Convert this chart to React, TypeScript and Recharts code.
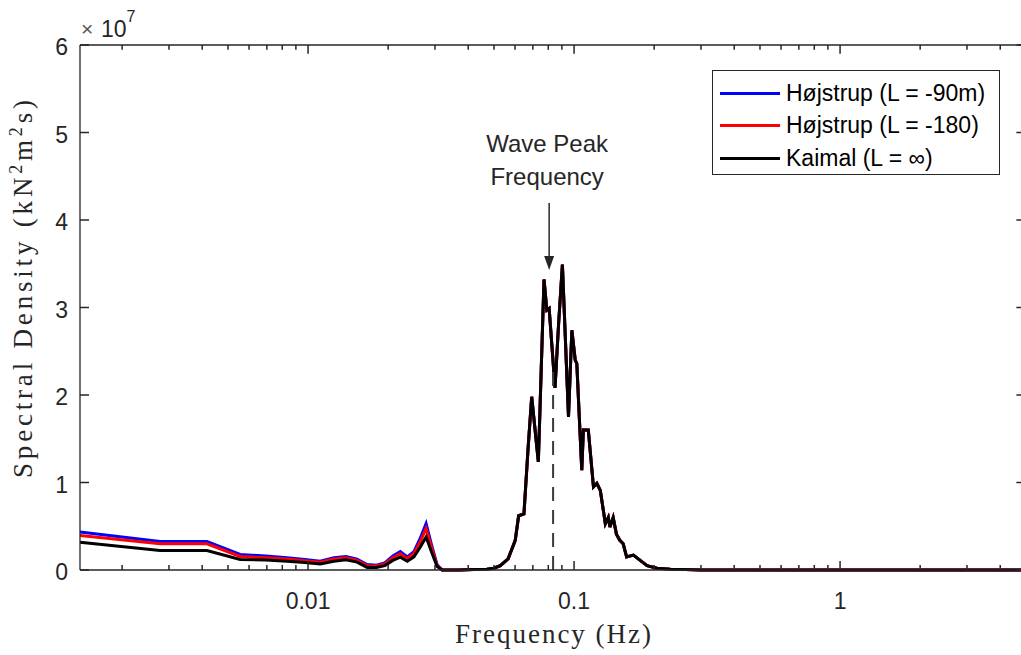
import React from "react";
import { LineChart, Line, XAxis, YAxis, ReferenceLine, ReferenceDot } from "recharts";

// low band, f = k/720 Hz, where the three spectra separate (values in units of 1e7)
const lowFreq = [
  0.001389, 0.002778, 0.004167, 0.005556, 0.006944, 0.008333, 0.009722, 0.01111,
  0.0125, 0.01389, 0.01528, 0.01667, 0.01806, 0.01944, 0.02083, 0.02222, 0.02361,
  0.025, 0.02639, 0.02778, 0.02917, 0.03056, 0.03194,
];
const hojstrup90Low = [
  0.433, 0.326, 0.326, 0.178, 0.16, 0.14, 0.12, 0.1, 0.14, 0.155, 0.125, 0.063,
  0.055, 0.08, 0.16, 0.21, 0.15, 0.21, 0.36, 0.53, 0.28, 0.06, 0,
];
const hojstrup180Low = [
  0.395, 0.3, 0.3, 0.155, 0.14, 0.125, 0.105, 0.09, 0.125, 0.14, 0.11, 0.05,
  0.045, 0.07, 0.14, 0.186, 0.13, 0.19, 0.32, 0.475, 0.25, 0.05, 0,
];
const kaimalLow = [
  0.318, 0.223, 0.223, 0.12, 0.115, 0.1, 0.085, 0.07, 0.1, 0.117, 0.09, 0.03,
  0.03, 0.05, 0.11, 0.147, 0.1, 0.15, 0.26, 0.376, 0.2, 0.04, 0,
];

// wave band, where all three curves coincide
const bandFreq = [
  0.0333, 0.037, 0.042, 0.047, 0.05, 0.0528, 0.0565, 0.0601, 0.0619, 0.0648,
  0.0671, 0.0693, 0.0734, 0.0771, 0.079, 0.0806, 0.0848, 0.0875, 0.0904, 0.0953,
  0.0981, 0.101, 0.1024, 0.1069, 0.1084, 0.1131, 0.1183, 0.1218, 0.1255, 0.1311,
  0.1345, 0.1364, 0.1403, 0.1443, 0.1486, 0.153, 0.1576, 0.1671, 0.1773, 0.1881,
  0.205, 0.23, 0.3, 0.6, 1.2, 2.5, 5,
];
const bandValues = [
  0, 0, 0.005, 0.01, 0.02, 0.05, 0.128, 0.34, 0.62, 0.64,
  1.37, 1.98, 1.235, 3.32, 2.97, 2.99, 2.08, 2.82, 3.49, 1.75,
  2.74, 2.4, 2.36, 1.14, 1.6, 1.6, 0.95, 0.99, 0.91, 0.53,
  0.6, 0.49, 0.6, 0.41, 0.34, 0.3, 0.15, 0.17, 0.11, 0.05,
  0.02, 0.01, 0, 0, 0, 0, 0,
];

const seriesNames = ["Højstrup (L = -90m)", "Højstrup (L = -180)", "Kaimal (L = ∞)"];
const seriesKeys = ["h90", "h180", "kaimal"];
const seriesColors = ["#0000ff", "#ff0000", "#000000"];

const xTicks = [
  0.002, 0.003, 0.004, 0.005, 0.006, 0.007, 0.008, 0.009, 0.01,
  0.02, 0.03, 0.04, 0.05, 0.06, 0.07, 0.08, 0.09, 0.1,
  0.2, 0.3, 0.4, 0.5, 0.6, 0.7, 0.8, 0.9, 1,
  2, 3, 4, 5,
];
const xMajor = [0.01, 0.1, 1];
const yTicks = [0, 1, 2, 3, 4, 5, 6];

const peakFreq = 0.0834;
const peakLineTop = 2.3;
const arrowFreq = 0.0806;
const arrowTip = 3.43;

const rows = [
  ...lowFreq.map((f, i) => ({ f, h90: hojstrup90Low[i], h180: hojstrup180Low[i], kaimal: kaimalLow[i] })),
  ...bandFreq.map((f, i) => ({ f, h90: bandValues[i], h180: bandValues[i], kaimal: bandValues[i] })),
];

const AXIS = "#262626";
const SANS = "'Liberation Sans', Arial, Helvetica, sans-serif";
const SERIF = "'Liberation Serif', 'Times New Roman', serif";
const X_DOMAIN: [number, number] = [1 / 720, 5];
const Y_MAX = 6;
const X_MAX = 5;

function BottomTick({ x, y, payload }: any) {
  const major = xMajor.includes(payload.value);
  return (
    <g>
      <line x1={x} x2={x} y1={y} y2={y - (major ? 9 : 5)} stroke={AXIS} strokeWidth={1.5} />
      {major && (
        <text x={x} y={y + 39} textAnchor="middle" fill={AXIS} fontFamily={SANS} fontSize={23}>
          {String(payload.value)}
        </text>
      )}
    </g>
  );
}

function LeftTick({ x, y, payload }: any) {
  return (
    <g>
      <line x1={x} x2={x + 9} y1={y} y2={y} stroke={AXIS} strokeWidth={1.5} />
      <text x={x - 12} y={y + 10} textAnchor="end" fill={AXIS} fontFamily={SANS} fontSize={23}>
        {String(payload.value)}
      </text>
    </g>
  );
}

function PeakNote({ cx, cy }: any) {
  return (
    <g>
      <text x={cx - 2} y={cy - 118} textAnchor="middle" fontFamily={SANS} fontSize={24} fill={AXIS}>
        Wave Peak
      </text>
      <text x={cx - 2} y={cy - 85} textAnchor="middle" fontFamily={SANS} fontSize={24} fill={AXIS}>
        Frequency
      </text>
      <line x1={cx} x2={cx} y1={cy - 67} y2={cy - 10} stroke={AXIS} strokeWidth={1.5} />
      <path d={`M${cx - 5},${cy - 14} L${cx + 5},${cy - 14} L${cx},${cy} Z`} fill={AXIS} />
    </g>
  );
}

// axis titles and the exponent, laid over the chart
function Titles() {
  return (
    <svg
      width={1021}
      height={655}
      style={{ position: "absolute", left: 0, top: 0, pointerEvents: "none" }}
    >
      <text
        transform="translate(32,289) rotate(-90)"
        textAnchor="middle"
        fontFamily={SERIF}
        fontSize={27}
        fill={AXIS}
        textLength={378}
        lengthAdjust="spacing"
      >
        Spectral Density (kN
        <tspan dy={-10} fontSize={18}>2</tspan>
        <tspan dy={10}>m</tspan>
        <tspan dy={-10} fontSize={18}>2</tspan>
        <tspan dy={10}>s)</tspan>
      </text>
      <text x={81} y={36} fontFamily={SANS} fontSize={21} fill="#555">
        ×
      </text>
      <text x={101} y={37} fontFamily={SANS} fontSize={23} fill={AXIS}>
        10
        <tspan dy={-15} fontSize={16}>7</tspan>
      </text>
      <text
        x={553}
        y={643}
        textAnchor="middle"
        fontFamily={SERIF}
        fontSize={27}
        fill={AXIS}
        textLength={196}
        lengthAdjust="spacing"
      >
        Frequency (Hz)
      </text>
    </svg>
  );
}

function LegendBox() {
  return (
    <div
      style={{
        position: "absolute",
        left: 712,
        top: 70,
        width: 288,
        height: 105,
        boxSizing: "border-box",
        border: `1px solid ${AXIS}`,
        background: "#fff",
        fontFamily: SANS,
        fontSize: 23,
        color: "#000",
      }}
    >
      {seriesNames.map((name, i) => (
        <div
          key={name}
          style={{
            position: "absolute",
            left: 7,
            top: 6 + i * 32.5,
            height: 32,
            display: "flex",
            alignItems: "center",
            whiteSpace: "nowrap",
          }}
        >
          <span style={{ width: 60, height: 3, background: seriesColors[i], display: "inline-block" }} />
          <span style={{ marginLeft: 6 }}>{name}</span>
        </div>
      ))}
    </div>
  );
}

export default function App() {
  return (
    <div
      style={{
        position: "fixed",
        left: 0,
        top: 0,
        width: 1021,
        height: 655,
        overflow: "hidden",
        background: "#fff",
      }}
    >
      <LineChart width={1040} height={655} data={rows} margin={{ top: 45, right: 14, bottom: 25, left: 0 }}>
        <XAxis
          xAxisId="bottom"
          dataKey="f"
          type="number"
          scale="log"
          domain={X_DOMAIN}
          ticks={xTicks}
          interval={0}
          tick={BottomTick}
          tickLine={false}
          tickSize={0}
          tickMargin={0}
          height={60}
          axisLine={{ stroke: AXIS, strokeWidth: 1.3 }}
        />
        <YAxis
          yAxisId="left"
          type="number"
          domain={[0, Y_MAX]}
          ticks={yTicks}
          interval={0}
          tick={LeftTick}
          tickLine={false}
          tickSize={0}
          tickMargin={0}
          width={80}
          axisLine={{ stroke: AXIS, strokeWidth: 1.3 }}
        />
        {seriesKeys.map((k, i) => (
          <Line
            key={k}
            xAxisId="bottom"
            yAxisId="left"
            type="linear"
            dataKey={k}
            stroke={seriesColors[i]}
            strokeWidth={3}
            dot={false}
            isAnimationActive={false}
          />
        ))}
        {/* box: top and right edges with inward ticks */}
        <ReferenceLine xAxisId="bottom" yAxisId="left" y={Y_MAX} stroke={AXIS} strokeWidth={1.5} />
        <ReferenceLine xAxisId="bottom" yAxisId="left" x={X_MAX} stroke={AXIS} strokeWidth={1.5} />
        {xTicks.map((v) => (
          <ReferenceLine
            key={`top-${v}`}
            xAxisId="bottom"
            yAxisId="left"
            segment={[
              { x: v, y: Y_MAX },
              { x: v, y: Y_MAX - (xMajor.includes(v) ? 0.1 : 0.055) },
            ]}
            stroke={AXIS}
            strokeWidth={1.5}
          />
        ))}
        {yTicks.map((v) => (
          <ReferenceLine
            key={`right-${v}`}
            xAxisId="bottom"
            yAxisId="left"
            segment={[
              { x: X_MAX, y: v },
              { x: 4.6, y: v },
            ]}
            stroke={AXIS}
            strokeWidth={1.5}
          />
        ))}
        <ReferenceLine
          xAxisId="bottom"
          yAxisId="left"
          segment={[
            { x: peakFreq, y: 0 },
            { x: peakFreq, y: peakLineTop },
          ]}
          stroke="#3a3a3a"
          strokeWidth={2}
          strokeDasharray="14 9"
        />
        <ReferenceDot xAxisId="bottom" yAxisId="left" x={arrowFreq} y={arrowTip} shape={PeakNote} />
      </LineChart>
      <Titles />
      <LegendBox />
    </div>
  );
}
